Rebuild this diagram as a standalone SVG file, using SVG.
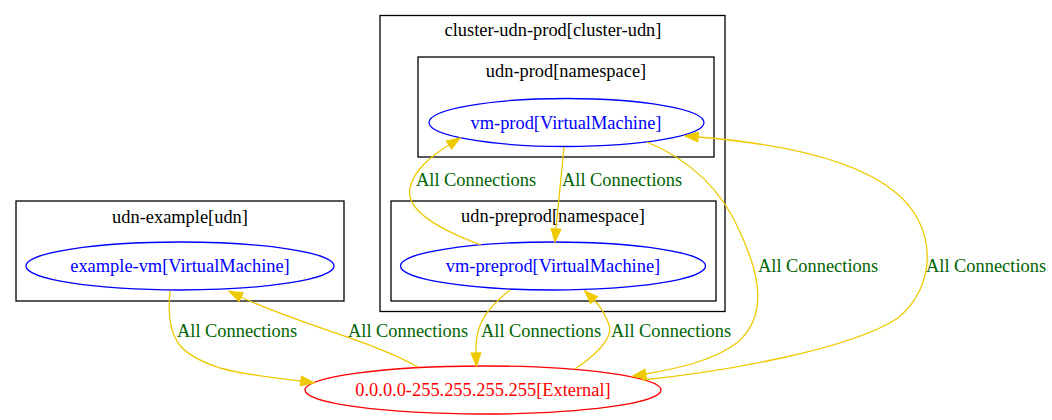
<svg xmlns="http://www.w3.org/2000/svg" width="1052" height="420" viewBox="0 0 1052 420">
<style>
text{font-family:"Liberation Serif","Times New Roman",serif;font-size:18.4px}
.cl{fill:none;stroke:#000;stroke-width:1.3}
.ct{fill:#000;text-anchor:middle}
.vm ellipse{fill:none;stroke:#0000ff;stroke-width:1.3}
.vm text{fill:#0000ff;text-anchor:middle}
.ext ellipse{fill:none;stroke:#ff0000;stroke-width:1.3}
.ext text{fill:#ff0000;text-anchor:middle}
.e{fill:none;stroke:#eec900;stroke-width:1.3;marker-end:url(#ah)}
.lb{fill:#006400}
</style>
<defs>
<marker id="ah" markerUnits="userSpaceOnUse" markerWidth="16" markerHeight="12" refX="0" refY="6" orient="auto" viewBox="0 0 16 12" overflow="visible">
<path d="M0,1.3 L13,6 L0,10.7 z" fill="#eec900" stroke="#eec900" stroke-width="1.3"/>
</marker>
</defs>
<rect width="1052" height="420" fill="#fff"/>
<g id="cluster-udn-prod">
<rect class="cl" x="380" y="15.5" width="345" height="296"/>
<text class="ct" x="553" y="36">cluster-udn-prod[cluster-udn]</text>
</g>
<g id="udn-prod">
<rect class="cl" x="418" y="57" width="296" height="100"/>
<text class="ct" x="566" y="77">udn-prod[namespace]</text>
</g>
<g id="udn-preprod">
<rect class="cl" x="391" y="201" width="325" height="100"/>
<text class="ct" x="553" y="222">udn-preprod[namespace]</text>
</g>
<g id="udn-example">
<rect class="cl" x="16" y="201" width="328" height="100"/>
<text class="ct" x="180" y="223">udn-example[udn]</text>
</g>
<g id="vm-prod" class="vm">
<ellipse cx="566.5" cy="122.5" rx="137.5" ry="24"/>
<text x="566" y="128.5">vm-prod[VirtualMachine]</text>
</g>
<g id="vm-preprod" class="vm">
<ellipse cx="553" cy="266" rx="152.5" ry="24"/>
<text x="553" y="272">vm-preprod[VirtualMachine]</text>
</g>
<g id="example-vm" class="vm">
<ellipse cx="180" cy="266" rx="154" ry="24"/>
<text x="180" y="272">example-vm[VirtualMachine]</text>
</g>
<g id="external" class="ext">
<ellipse cx="483" cy="390" rx="178" ry="24"/>
<text x="483" y="395.5">0.0.0.0-255.255.255.255[External]</text>
</g>
<g id="connectors">
<path class="e" d="M170,291 C165,340 180,355 220,368 C250,376 280,378 301,381"/>
<text class="lb" x="177" y="337">All Connections</text>
<path class="e" d="M418,367 C370,340 300,325 241,297"/>
<text class="lb" x="348" y="337">All Connections</text>
<path class="e" d="M510,290 C485,310 475,325 476,353"/>
<text class="lb" x="481" y="337">All Connections</text>
<path class="e" d="M575,369 C600,352 615,335 608,322 C604,312 600,306 594,300"/>
<text class="lb" x="611" y="337">All Connections</text>
<path class="e" d="M564,147 C561,180 558,205 556,229"/>
<text class="lb" x="562" y="186">All Connections</text>
<path class="e" d="M481,245 C440,230 405,210 410,188 C414,170 430,157 449,145"/>
<text class="lb" x="416" y="186">All Connections</text>
<path class="e" d="M647,142 C690,160 722,190 740,232 C760,275 768,315 738,342 C715,360 680,368 645.6,374"/>
<text class="lb" x="758" y="272">All Connections</text>
<path class="e" d="M642,380 C720,372 850,350 898,318 C938,285 937,225 895,192 C850,155 760,142 698,137"/>
<text class="lb" x="926" y="272">All Connections</text>
</g>
</svg>
